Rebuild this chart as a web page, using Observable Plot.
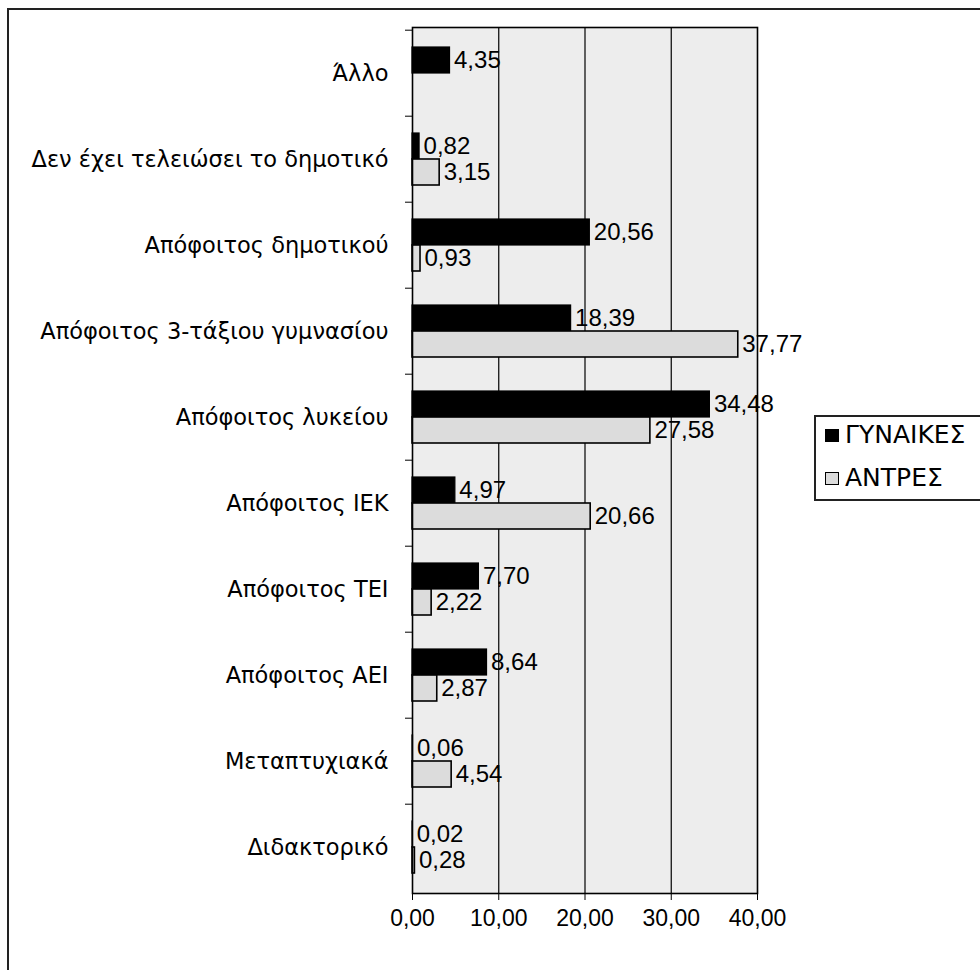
<!DOCTYPE html>
<html>
<head>
<meta charset="utf-8">
<script src="https://cdn.jsdelivr.net/npm/d3@7"></script>
<script src="https://cdn.jsdelivr.net/npm/@observablehq/plot@0.6"></script>
<style>
  body { margin: 0; background: #fff; font-family: "Liberation Sans", Arial, sans-serif; }
  #wrap { position: relative; width: 980px; height: 970px; overflow: hidden; }
  #outer { position: absolute; left: 7px; top: 8px; width: 1100px; height: 1100px; border-left: 2px solid #222; border-top: 2px solid #222; }
  #chart { position: absolute; left: 0; top: 0; }
  #legend { position: absolute; left: 814px; top: 415px; width: 300px; height: 86px; background: #fff; border: 2px solid #222; box-sizing: border-box; }
  .item { position: absolute; left: 9px; font-family: "DejaVu Sans", sans-serif; font-size: 25px; line-height: 28px; color: #000; white-space: nowrap; }
  .sw { display: inline-block; width: 12px; height: 11px; border: 1.5px solid #000; margin-right: 6px; vertical-align: 1px; }
</style>
</head>
<body>
<div id="wrap">
  <div id="outer"></div>
  <div id="chart"></div>
  <div id="legend"></div>
</div>
<script>
const categories = ["Άλλο", "Δεν έχει τελειώσει το δημοτικό", "Απόφοιτος δημοτικού", "Απόφοιτος 3-τάξιου γυμνασίου", "Απόφοιτος λυκείου", "Απόφοιτος ΙΕΚ", "Απόφοιτος ΤΕΙ", "Απόφοιτος ΑΕΙ", "Μεταπτυχιακά", "Διδακτορικό"];
const series = ["ΓΥΝΑΙΚΕΣ", "ΑΝΤΡΕΣ"];
const women = [4.35, 0.82, 20.56, 18.39, 34.48, 4.97, 7.70, 8.64, 0.06, 0.02];
const men = [null, 3.15, 0.93, 37.77, 27.58, 20.66, 2.22, 2.87, 4.54, 0.28];
const xTicks = [0, 10, 20, 30, 40];
const seriesFill = ["#000000", "#dcdcdc"];

const fmt = v => v.toFixed(2).replace(".", ",");
const womenRows = categories.map((c, i) => ({cat: c, value: women[i]})).filter(d => d.value != null);
const menRows = categories.map((c, i) => ({cat: c, value: men[i]})).filter(d => d.value != null);

const H = 960, mTop = 27, mBottom = 67;
const step = (H - mTop - mBottom) / categories.length;
const off = 13;

const chart = Plot.plot({
  width: 980,
  height: H,
  marginLeft: 412,
  marginRight: 223,
  marginTop: mTop,
  marginBottom: mBottom,
  style: {fontFamily: "'Liberation Sans', Arial, sans-serif", background: "transparent", color: "#000"},
  x: {domain: [0, 40], axis: null},
  y: {domain: categories, paddingInner: 0.7, paddingOuter: 0.35, axis: null},
  marks: [
    Plot.frame({fill: "#ededed"}),
    Plot.ruleX(xTicks.slice(1, -1), {stroke: "#000", strokeWidth: 1.2}),
    Plot.barX(womenRows, {x: "value", y: "cat", dy: -off, fill: seriesFill[0], stroke: "#000", strokeWidth: 1.2}),
    Plot.barX(menRows, {x: "value", y: "cat", dy: off, fill: seriesFill[1], stroke: "#000", strokeWidth: 1.6}),
    Plot.text(womenRows, {x: "value", y: "cat", dy: -off, dx: 4, text: d => fmt(d.value), textAnchor: "start", fontSize: 24, fill: "#000"}),
    Plot.text(menRows, {x: "value", y: "cat", dy: off, dx: 4, text: d => fmt(d.value), textAnchor: "start", fontSize: 24, fill: "#000"}),
    Plot.frame({stroke: "#000", strokeWidth: 1.6}),
    Plot.axisX({ticks: xTicks, tickFormat: fmt, tickSize: 7, tickPadding: 9, fontSize: 23, stroke: "#000", label: null}),
    Plot.axisY({tickSize: 0, tickPadding: 24, fontSize: 22.5, fontFamily: "'DejaVu Sans', sans-serif", label: null}),
    Plot.axisY({ticks: categories, tickSize: 7, tickFormat: () => "", dy: -step / 2, stroke: "#000", label: null})
  ]
});
document.getElementById("chart").appendChild(chart);

const legend = document.getElementById("legend");
series.forEach((s, i) => {
  const it = document.createElement("div");
  it.className = "item";
  it.style.top = (4 + i * 43) + "px";
  const sw = document.createElement("span");
  sw.className = "sw";
  sw.style.background = seriesFill[i];
  it.appendChild(sw);
  it.appendChild(document.createTextNode(s));
  legend.appendChild(it);
});
</script>
</body>
</html>
